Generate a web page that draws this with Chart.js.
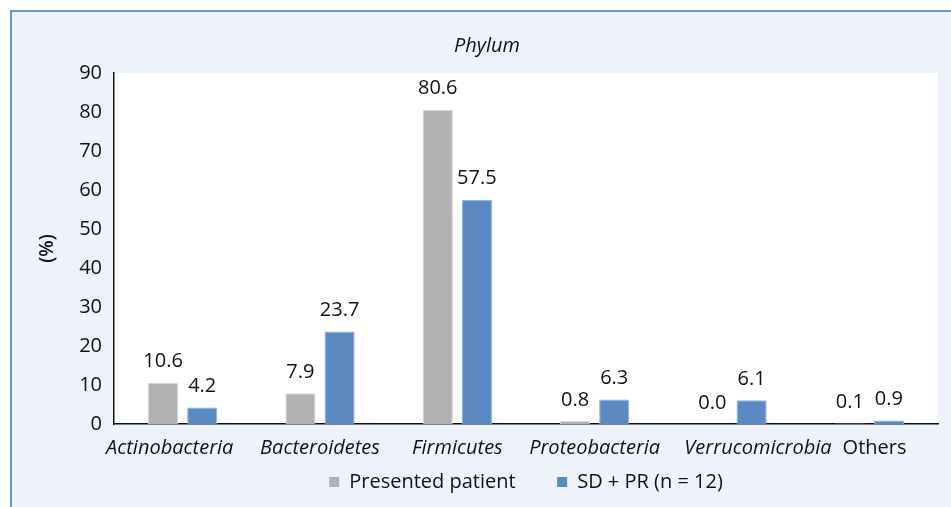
<!DOCTYPE html>
<html>
<head>
<meta charset="utf-8">
<script src="https://cdn.jsdelivr.net/npm/chart.js@4.4.1/dist/chart.umd.min.js"></script>
<style>
  html, body { margin: 0; padding: 0; background: #ffffff; }
  #wrap { width: 951px; height: 507px; }
</style>
</head>
<body>
<div id="wrap"><canvas id="phylum" width="951" height="507"></canvas></div>
<script>
const categories = ['Actinobacteria', 'Bacteroidetes', 'Firmicutes', 'Proteobacteria', 'Verrucomicrobia', 'Others'];
const presentedPatient = [10.6, 7.9, 80.6, 0.8, 0.0, 0.1];
const sdPr = [4.2, 23.7, 57.5, 6.3, 6.1, 0.9];
const yTicks = [0, 10, 20, 30, 40, 50, 60, 70, 80, 90];

const fontFamily = "'Open Sans', 'DejaVu Sans', sans-serif";

// the original nudges some category labels sideways so they don't collide
const labelShift = [-5, 0, 0, 0, 10, 2]; // in spaces, + = right

function nudge(text, n) {
    const pad = ' '.repeat(Math.abs(n));
    return n > 0 ? pad + text : text + pad;
}

// frame + white plot area
const framePlugin = {
    id: 'frame',
    beforeDraw(chart) {
        const c = chart.ctx;
        const area = chart.chartArea;
        c.save();
        c.fillStyle = '#eef2fa';
        c.fillRect(10, 10, chart.width - 10, chart.height - 10);
        c.fillStyle = '#ffffff';
        c.fillRect(area.left, area.top, area.right - area.left, area.bottom - area.top);
        c.strokeStyle = '#6b96cb';
        c.lineWidth = 2;
        c.beginPath();
        c.moveTo(11, chart.height);
        c.lineTo(11, 11);
        c.lineTo(chart.width, 11);
        c.stroke();
        c.restore();
    }
};

// value labels above bars
const valueLabels = {
    id: 'valueLabels',
    afterDatasetsDraw(chart) {
        const c = chart.ctx;
        c.save();
        c.font = '20px ' + fontFamily;
        c.fillStyle = '#111111';
        c.textAlign = 'center';
        c.textBaseline = 'middle';
        chart.data.datasets.forEach((ds, i) => {
            chart.getDatasetMeta(i).data.forEach((bar, j) => {
                c.fillText(ds.data[j].toFixed(1), bar.x, bar.y - 21);
            });
        });
        c.restore();
    }
};

new Chart(document.getElementById('phylum'), {
    type: 'bar',
    data: {
        labels: categories,
        datasets: [
            {
                label: 'Presented patient',
                data: presentedPatient,
                backgroundColor: '#b2b2b2',
                borderColor: '#d6d6d6',
                borderWidth: 1,
            },
            {
                label: 'SD + PR (n = 12)',
                data: sdPr,
                backgroundColor: '#5b8ac3',
                borderColor: '#8fb0d8',
                borderWidth: 1,
            },
        ],
    },
    options: {
        responsive: false,
        animation: false,
        categoryPercentage: 0.57,
        barPercentage: 0.77,
        layout: {
            padding: { left: 36, right: 13, top: 0, bottom: 5 },
        },
        plugins: {
            title: {
                display: true,
                text: 'Phylum',
                color: '#111111',
                font: { family: fontFamily, size: 20, style: 'italic', weight: 'normal' },
                padding: { top: 34, bottom: 15 },
            },
            legend: {
                position: 'bottom',
                fullSize: false,
                labels: {
                    color: '#111111',
                    font: { family: fontFamily, size: 20 },
                    boxWidth: 10,
                    boxHeight: 10,
                    padding: 0,
                    generateLabels(chart) {
                        return chart.data.datasets.map((ds, i) => ({
                            // trailing spaces widen the gap between the two entries
                            text: i === 0 ? ds.label + '        ' : ds.label,
                            fillStyle: ds.backgroundColor,
                            strokeStyle: ds.backgroundColor,
                            lineWidth: 0,
                            datasetIndex: i,
                            fontColor: '#111111',
                        }));
                    },
                },
            },
            tooltip: { enabled: false },
        },
        scales: {
            x: {
                grid: { display: false, drawTicks: false },
                border: { color: '#111111', width: 1.5 },
                ticks: {
                    color: '#111111',
                    padding: 12,
                    maxRotation: 0,
                    autoSkip: false,
                    callback: (value, index) => nudge(categories[index], labelShift[index]),
                    font: (ctx) => ({
                        family: fontFamily,
                        size: 20,
                        style: ctx.index < 5 ? 'italic' : 'normal',
                    }),
                },
            },
            y: {
                min: 0,
                max: 90,
                afterBuildTicks(scale) {
                    scale.ticks = yTicks.map(v => ({ value: v }));
                },
                afterFit(scale) {
                    scale.width = 78;
                },
                grid: { display: false, drawOnChartArea: false, drawTicks: true, tickLength: 7, tickColor: '#111111' },
                border: { color: '#111111', width: 1.5 },
                ticks: {
                    color: '#111111',
                    padding: 5,
                    font: { family: fontFamily, size: 20 },
                },
                title: {
                    display: true,
                    text: '(%)',
                    color: '#111111',
                    font: { family: fontFamily, size: 19, weight: '600' },
                    padding: { top: 0, bottom: 0 },
                },
            },
        },
    },
    plugins: [framePlugin, valueLabels],
});
</script>
</body>
</html>
